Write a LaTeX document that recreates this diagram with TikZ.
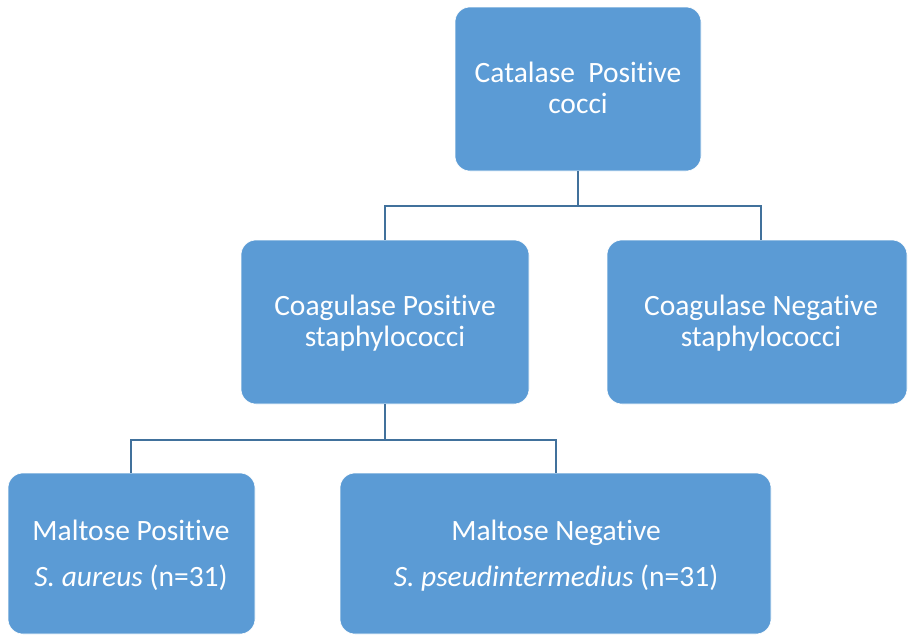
\documentclass[tikz,border=0pt]{standalone}
\usepackage{fontspec}
\setmainfont{Carlito}[Ligatures=NoCommon]
\definecolor{boxfill}{HTML}{5B9BD5}
\definecolor{linec}{HTML}{41719C}
\begin{document}
\begin{tikzpicture}[x=1pt,y=-1pt,
  box/.style={fill=boxfill,draw=white,line width=0.6pt,rounded corners=15pt},
  txt/.style={text=white,font=\fontsize{29.5}{35}\selectfont,anchor=base,inner sep=0pt},
  conn/.style={draw=linec,line width=2.5pt}]
\useasboundingbox (0,0) rectangle (908,635);
% boxes
\path[box] (455,7) rectangle (701,171);
\path[box] (241,240) rectangle (529,404);
\path[box] (607,240) rectangle (907,404);
\path[box] (8,473) rectangle (255,634);
\path[box] (340,473) rectangle (771,634);
% texts
\node[txt] (cat1) at (578,82) {Catalase\ \ Positive};
\node[txt] (cat2) at (578,113) {cocci};
\node[txt] (cp1) at (385,315) {Coagulase Positive};
\node[txt] (cp2) at (385,346) {staphylococci};
\node[txt] (cn1) at (761,315) {Coagulase Negative};
\node[txt] (cn2) at (761,346) {staphylococci};
\node[txt] (mp1) at (131,540) {Maltose Positive};
\node[txt] (mp2) at (131,586) {\textit{S. aureus} (n=31)};
\node[txt] (mn1) at (556,540) {Maltose Negative};
\node[txt] (mn2) at (556,586) {\textit{S. pseudintermedius} (n=31)};
% connector anchors
\coordinate (catb) at (578,171);
\coordinate (cpt) at (385,240);
\coordinate (cpb) at (385,404);
\coordinate (cnt) at (761,240);
\coordinate (mpt) at (131,473);
\coordinate (mnt) at (556,473);
\coordinate (j1) at (578,206);
\coordinate (j2) at (385,440);
\draw[conn] (catb) -- (j1) -| (cpt);
\draw[conn] (j1) -| (cnt);
\draw[conn] (cpb) -- (j2) -| (mpt);
\draw[conn] (j2) -| (mnt);
\end{tikzpicture}
\end{document}
